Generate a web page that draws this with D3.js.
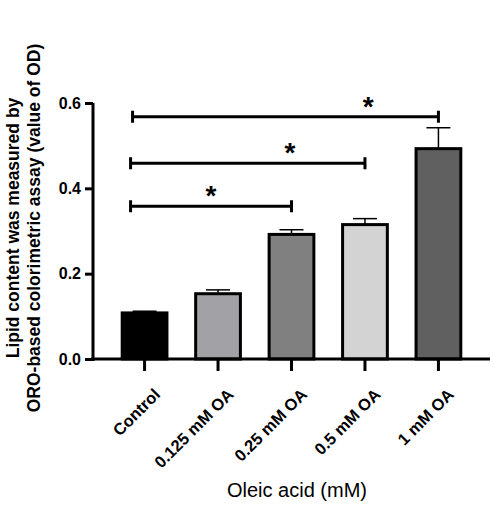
<!DOCTYPE html><html><head><script src="https://d3js.org/d3.v7.min.js"></script>
<style>body{margin:0;background:#fff}</style></head><body><svg id="c" width="494" height="512"></svg>
<script>
const categories=["Control","0.125 mM OA","0.25 mM OA","0.5 mM OA","1 mM OA"];
const values=[0.108,0.153,0.292,0.315,0.493];
const errors=[0.004,0.009,0.011,0.014,0.049];
const colors=["#000000","#a2a1a6","#808080","#d3d3d3","#606060"];
const yTicks=[0,0.2,0.4,0.6];
const brackets=[[0,2,0.358],[0,3,0.459],[0,4,0.568]];
const starFrac=[0.5,0.68,0.77];
const svg=d3.select("#c");
const x=d3.scaleBand().domain(categories).range([106,477]).paddingInner(0.35).paddingOuter(0.2);
const y=d3.scaleLinear().domain([0,0.6]).range([359,103]);
const F="Arial, Liberation Sans, sans-serif";
svg.selectAll("rect.b").data(values).join("rect").attr("x",(d,i)=>x(categories[i])+1.5).attr("width",x.bandwidth()-3)
 .attr("y",d=>y(d)).attr("height",d=>y(0)-y(d)).attr("fill",(d,i)=>colors[i]).attr("stroke","#000").attr("stroke-width",3);
values.forEach((v,i)=>{const cx=x(categories[i])+x.bandwidth()/2;
 svg.append("line").attr("x1",cx).attr("x2",cx).attr("y1",y(v)).attr("y2",y(v+errors[i])).attr("stroke","#000").attr("stroke-width",1.5);
 svg.append("line").attr("x1",cx-12).attr("x2",cx+12).attr("y1",y(v+errors[i])).attr("y2",y(v+errors[i])).attr("stroke","#000").attr("stroke-width",1.5);});
const ya=svg.append("g").attr("transform","translate(93,0)").call(d3.axisLeft(y).tickValues(yTicks).tickFormat(d3.format(".1f")).tickSize(8).tickSizeOuter(0));
const xa=svg.append("g").attr("transform","translate(0,359)").call(d3.axisBottom(x).tickSize(12).tickSizeOuter(0));
ya.select(".domain").attr("d","M0,103V361");
xa.select(".domain").attr("d","M91,0H490");
svg.selectAll(".domain,.tick line").attr("stroke","#000").attr("stroke-width",3);
ya.selectAll("text").attr("font-family",F).attr("font-size",16).attr("font-weight","bold").attr("fill","#000").attr("x",-12);
xa.selectAll("text").attr("font-family",F).attr("font-size",16.5).attr("font-weight","bold").attr("fill","#000")
 .attr("text-anchor","end").attr("dy",0).attr("transform","translate(6,26) rotate(-45)");
brackets.forEach(([a,b,v],k)=>{const x1=x(categories[a])+x.bandwidth()/2-14+(v>0.5?2:0),x2=x(categories[b])+x.bandwidth()/2,yy=y(v);
 svg.append("path").attr("d",`M${x1},${yy-6}V${yy+6}M${x1},${yy}H${x2}M${x2},${yy-6}V${yy+6}`).attr("stroke","#000").attr("stroke-width",3).attr("fill","none");
 svg.append("text").attr("x",x1+(x2-x1)*starFrac[k]).attr("y",yy-1).attr("text-anchor","middle").attr("font-family",F).attr("font-size",28).attr("font-weight","bold").text("*");});
const yl=svg.append("text").attr("transform","translate(19,228) rotate(-90)").attr("text-anchor","middle").attr("font-family",F).attr("font-size",17.5).attr("font-weight","bold");
yl.append("tspan").attr("x",0).attr("dy",0).text("Lipid content was measured by");
yl.append("tspan").attr("x",0).attr("dy",21).text("ORO-based colorimetric assay (value of OD)");
svg.append("text").attr("x",297).attr("y",497).attr("text-anchor","middle").attr("font-family",F).attr("font-size",20).text("Oleic acid (mM)");
</script></body></html>
